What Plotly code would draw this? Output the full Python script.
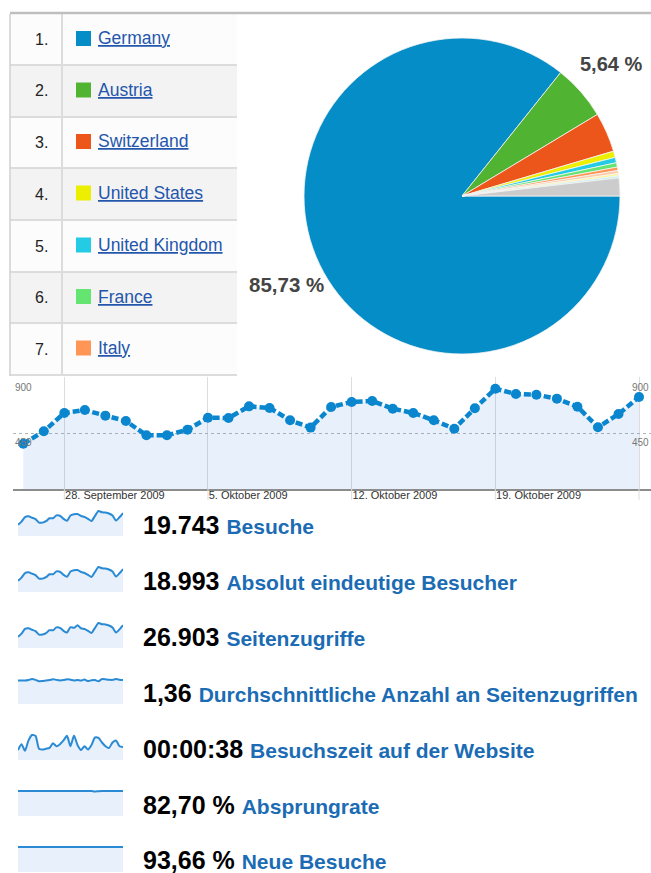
import plotly.graph_objects as go
import pandas as pd

W, H = 651, 873
FONT = "Liberation Sans, Arial, sans-serif"

# ---------------- data ----------------
ranks = ["1.", "2.", "3.", "4.", "5.", "6.", "7."]
countries = ["Germany", "Austria", "Switzerland", "United States",
             "United Kingdom", "France", "Italy"]
pie_labels = countries + ["Weitere 1", "Weitere 2", "Weitere 3", "Sonstige"]
pie_values = [85.73, 5.64, 4.05, 0.65, 0.55, 0.45, 0.35, 0.30, 0.25, 0.20, 1.83]
pie_colors = ["#058DC7", "#50B432", "#ED561B", "#EDEF00", "#24CBE5", "#64E572",
              "#FF9655", "#FFCBA8", "#FFF5A0", "#BDEFF7", "#CCCCCC"]

dates = pd.date_range("2009-09-26", "2009-10-26", freq="D")
visits = [370, 472, 622, 646, 600, 556, 439, 439, 485, 583, 581, 676, 663, 562, 502,
          671, 712, 720, 657, 622, 562, 493, 660, 820, 777, 771, 739, 673, 505, 613, 752]
week_ticks = ["2009-09-28", "2009-10-05", "2009-10-12", "2009-10-19", "2009-10-26"]
week_labels = ["28. September 2009", "5. Oktober 2009", "12. Oktober 2009", "19. Oktober 2009", ""]
y_labels = [900, 450]

unique_visitors = [356, 455, 598, 621, 578, 535, 423, 422, 467, 561, 559, 651, 638, 541, 483,
                   646, 685, 693, 632, 598, 541, 474, 635, 789, 748, 742, 711, 648, 486, 590, 724]
pageviews = [500, 640, 850, 880, 815, 755, 595, 600, 660, 795, 790, 920, 900, 765, 690,
             930, 900, 1010, 880, 845, 765, 670, 900, 1115, 1060, 1050, 1005, 915, 690, 830, 1020]
pages_per_visit = [1.33, 1.34, 1.33, 1.36, 1.42, 1.37, 1.29, 1.31, 1.33, 1.36, 1.41, 1.37, 1.34,
                   1.36, 1.41, 1.38, 1.34, 1.37, 1.33, 1.39, 1.30, 1.35, 1.36, 1.29, 1.42, 1.40,
                   1.38, 1.37, 1.42, 1.38, 1.36]
time_on_site = [24, 38, 22, 47, 60, 58, 27, 25, 27, 29, 40, 33, 38, 47, 58, 33, 59, 36, 24, 33,
                25, 36, 54, 53, 42, 33, 29, 42, 47, 33, 31]
bounce_rate = [82.9, 82.7, 82.8, 82.6, 82.9, 82.8, 82.7, 82.8, 82.6, 82.9, 82.7, 82.8, 82.7,
               82.9, 82.6, 82.8, 82.7, 82.9, 82.8, 82.7, 82.9, 82.5, 81.2, 82.4, 82.7, 82.8,
               82.7, 82.8, 82.7, 82.8, 82.8]
new_visits = [93.6, 93.7, 93.6, 93.8, 93.7, 93.6, 93.5, 93.7, 93.6, 93.8, 93.7, 93.6, 93.7,
              93.8, 93.6, 93.7, 93.6, 93.7, 93.8, 93.7, 93.6, 93.7, 93.6, 93.7, 93.8, 93.7,
              93.6, 93.7, 93.6, 93.7, 93.6]
spark_series = [visits, unique_visitors, pageviews, pages_per_visit, time_on_site,
                bounce_rate, new_visits]
totals = ["19.743", "18.993", "26.903", "1,36", "00:00:38", "82,70 %", "93,66 %"]
metrics = ["Besuche", "Absolut eindeutige Besucher", "Seitenzugriffe",
           "Durchschnittliche Anzahl an Seitenzugriffen", "Besuchszeit auf der Website",
           "Absprungrate", "Neue Besuche"]


def px(x):
    return x / W


def py(y):
    return 1 - y / H


fig = go.Figure()
shapes = []
annotations = []

# ---------------- table ----------------
row_edges = [14, 65, 117, 168, 220, 272, 323, 375]
for i in range(len(countries)):
    y0, y1 = row_edges[i], row_edges[i + 1]
    shapes.append(dict(type="rect", xref="paper", yref="paper", layer="below",
                       x0=px(10), x1=px(237), y0=py(y1), y1=py(y0),
                       fillcolor="#F3F3F3" if i % 2 else "#FCFCFC", line_width=0))
    shapes.append(dict(type="line", xref="paper", yref="paper",
                       x0=px(10), x1=px(237), y0=py(y1), y1=py(y1),
                       line=dict(color="#DCDCDC", width=2)))
    yc = (y0 + y1) / 2
    shapes.append(dict(type="rect", xref="paper", yref="paper",
                       x0=px(76), x1=px(91), y0=py(yc + 6.5), y1=py(yc - 8.5),
                       fillcolor=pie_colors[i], line_width=0))
    annotations.append(dict(x=px(50), y=py(yc), xref="paper", yref="paper",
                            xanchor="right", yanchor="middle", showarrow=False,
                            text=ranks[i], font=dict(family=FONT, size=16, color="#222222")))
    annotations.append(dict(x=px(96), y=py(yc - 1), xref="paper", yref="paper",
                            xanchor="left", yanchor="middle", showarrow=False,
                            text="<u>" + countries[i] + "</u>",
                            font=dict(family=FONT, size=17.5, color="#2456AC")))
shapes.append(dict(type="line", xref="paper", yref="paper", x0=px(62), x1=px(62),
                   y0=py(376), y1=py(14), line=dict(color="#DCDCDC", width=2)))
shapes.append(dict(type="line", xref="paper", yref="paper", x0=px(10), x1=px(10),
                   y0=py(376), y1=py(14), line=dict(color="#D0D0D0", width=1.5)))
shapes.append(dict(type="line", xref="paper", yref="paper", x0=px(10), x1=1,
                   y0=py(13), y1=py(13), line=dict(color="#BEBEBE", width=2.5)))

# ---------------- pie ----------------
fig.add_trace(go.Pie(
    labels=pie_labels, values=pie_values, sort=False, direction="clockwise",
    rotation=90, textinfo="none", hoverinfo="label+percent",
    marker=dict(colors=pie_colors, line=dict(color="#F4F4F4", width=0.8)),
    domain=dict(x=[px(304), px(620)], y=[py(354), py(38)]), showlegend=False))


def pct(v):
    return f"{v:.2f}".replace(".", ",") + " %"


annotations.append(dict(x=px(578), y=py(64), xref="paper", yref="paper", xanchor="left",
                        yanchor="middle", showarrow=False, text="<b>" + pct(pie_values[1]) + "</b>",
                        font=dict(family=FONT, size=20, color="#444444")))
annotations.append(dict(x=px(247), y=py(285), xref="paper", yref="paper", xanchor="left",
                        yanchor="middle", showarrow=False, text="<b>" + pct(pie_values[0]) + "</b>",
                        font=dict(family=FONT, size=20.5, color="#444444")))

# ---------------- main line chart ----------------
fig.add_trace(go.Scatter(
    x=dates, y=visits, mode="lines+markers", xaxis="x", yaxis="y",
    line=dict(color="#0A86CF", width=4.5, dash="7px,3px"),
    marker=dict(size=10, color="#0A86CF"),
    fill="tozeroy", fillcolor="rgba(30,120,220,0.10)", showlegend=False,
    hovertemplate="%{x|%d.%m.%Y}: %{y}<extra></extra>"))

layout_axes = dict(
    xaxis=dict(domain=[px(13), 1], range=["2009-09-25 12:00", "2009-10-26 14:00"],
               type="date", tickvals=week_ticks, ticktext=week_labels,
               ticks="", ticklabelposition="outside right", ticklabelstandoff=-5,
               showgrid=True, gridcolor="#DDDDDD", gridwidth=1,
               showline=True, linecolor="#8C8C8C", linewidth=1.5,
               tickfont=dict(family=FONT, size=11, color="#333333"),
               zeroline=False, anchor="y", fixedrange=True),
    yaxis=dict(domain=[py(489), py(377)], range=[0, 916], tickvals=[450],
               showticklabels=False, showgrid=True, gridcolor="#B5B5B5",
               griddash="dot", gridwidth=1, zeroline=False, anchor="x", fixedrange=True),
)
for t in week_ticks:
    shapes.append(dict(type="line", xref="x", yref="paper", x0=t, x1=t,
                       y0=py(500), y1=py(489), line=dict(color="#DDDDDD", width=1)))

for v in y_labels:
    annotations.append(dict(x=px(13), y=v, xref="paper", yref="y", xanchor="left",
                            yanchor="top", yshift=-1, showarrow=False, text=str(v),
                            font=dict(family=FONT, size=10, color="#777777")))
    annotations.append(dict(x=1, y=v, xref="paper", yref="y", xanchor="right",
                            yanchor="top", yshift=-1, showarrow=False, text=str(v),
                            font=dict(family=FONT, size=10, color="#777777")))

# ---------------- sparklines + metrics ----------------
for i, series in enumerate(spark_series):
    k = i + 2
    bottom = 536 + 56 * i
    top = 510 + 56 * i
    fig.add_trace(go.Scatter(
        x=dates, y=series, mode="lines", xaxis=f"x{k}", yaxis=f"y{k}",
        line=dict(color="#2A8AD4", width=2, shape="spline", smoothing=0.6), fill="tozeroy",
        fillcolor="rgba(30,120,220,0.10)", showlegend=False, hoverinfo="skip"))
    layout_axes[f"xaxis{k}"] = dict(domain=[px(18), px(123)], range=[dates[0], dates[-1]],
                                    visible=False, anchor=f"y{k}", fixedrange=True)
    layout_axes[f"yaxis{k}"] = dict(domain=[py(bottom), py(top)],
                                    range=[0, max(series) * 1.04],
                                    visible=False, anchor=f"x{k}", fixedrange=True)
    yc = 525 + 56 * i - (1 if i == 6 else 0)
    annotations.append(dict(
        x=px(142), y=py(yc), xref="paper", yref="paper", xanchor="left", yanchor="middle",
        showarrow=False, borderpad=0,
        text=f"<b>{totals[i]}</b> <span style='font-size:21px;color:#1B6CB4'><b>{metrics[i]}</b></span>",
        font=dict(family=FONT, size=25, color="#000000")))

fig.update_layout(
    width=W, height=H, margin=dict(l=0, r=0, t=0, b=0),
    paper_bgcolor="white", plot_bgcolor="rgba(0,0,0,0)",
    shapes=shapes, annotations=annotations, showlegend=False,
    **layout_axes)

fig.write_html(
    "out.html",
    config={"displayModeBar": False},
    post_script="document.body.style.margin='0';document.body.style.overflow='hidden';"
                "document.documentElement.style.overflow='hidden';")
